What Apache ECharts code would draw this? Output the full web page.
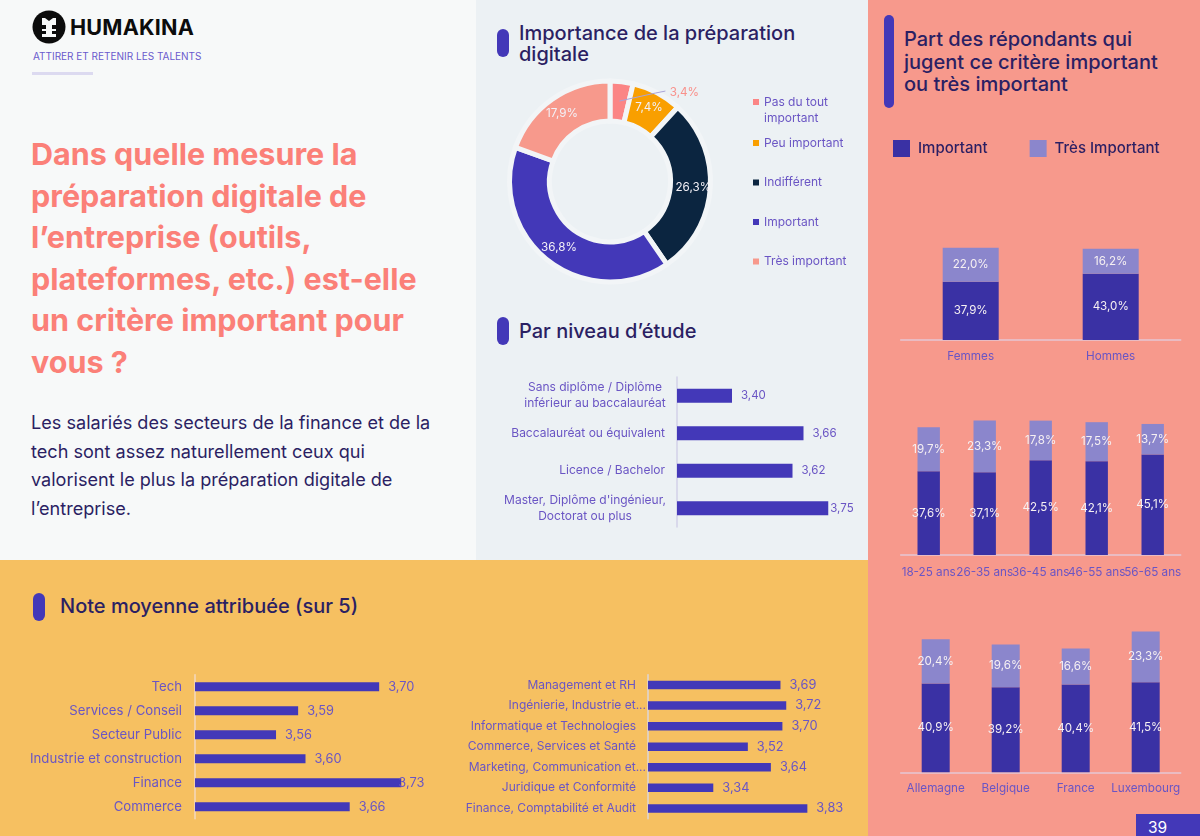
<!DOCTYPE html>
<html lang="fr">
<head>
<meta charset="utf-8">
<title>Préparation digitale</title>
<script src="https://cdn.jsdelivr.net/npm/echarts@6/dist/echarts.min.js"></script>
<style>
  html, body { margin: 0; padding: 0; }
  body { width: 1200px; height: 836px; position: relative; overflow: hidden; font-family: Inter, sans-serif; background: #f7f9f9; }
  .box { position: absolute; }
  .chart { position: absolute; }
  .pill { position: absolute; background: #4338b8; border-radius: 7px; }
  .head { position: absolute; color: #2b1f63; font-weight: 500; white-space: nowrap; }
</style>
</head>
<body>
<div class="box" style="left:0;top:0;width:476px;height:560px;background:#f7f9f9"></div>
<div class="box" style="left:476px;top:0;width:392px;height:560px;background:#ecf1f4"></div>
<div class="box" style="left:868px;top:0;width:332px;height:836px;background:#f7998c"></div>
<div class="box" style="left:0;top:560px;width:868px;height:276px;background:#f6c061"></div>

<svg class="box" style="left:32px;top:10px" width="34" height="34" viewBox="0 0 34 34">
  <circle cx="17" cy="17" r="16.5" fill="#0c0c0c"/>
  <path d="M10 8h3l4 3 4-3h3v7h-14z M10 19h14v2h-14z M10 24h14v3h-14z M14 15h6v4h-6z M14 21h6v3h-6z" fill="#f7f9f9"/>
</svg>
<div class="head" style="left:70px;top:12px;font-size:21.6px;line-height:30px;font-weight:700;color:#0c0c0c;letter-spacing:.2px">HUMAKINA</div>
<div class="head" style="left:33px;top:49px;font-size:10px;line-height:14px;font-weight:400;color:#6a5acd">ATTIRER ET RETENIR LES TALENTS</div>
<div class="box" style="left:32px;top:72px;width:61px;height:3px;background:#dcdaf0"></div>

<div class="head" style="left:31px;top:133px;font-size:30.5px;line-height:41.6px;font-weight:700;color:#fb8078">Dans quelle mesure la<br>préparation digitale de<br>l’entreprise (outils,<br>plateformes, etc.) est-elle<br>un critère important pour<br>vous ?</div>
<div class="head" style="left:31px;top:408px;font-size:18.1px;line-height:28.5px;font-weight:400">Les salariés des secteurs de la finance et de la<br>tech sont assez naturellement ceux qui<br>valorisent le plus la préparation digitale de<br>l’entreprise.</div>

<div class="pill" style="left:497px;top:29px;width:12px;height:28px"></div>
<div class="head" style="left:519px;top:23px;font-size:20px;line-height:21px">Importance de la préparation<br>digitale</div>
<div class="pill" style="left:497px;top:317px;width:12px;height:28px"></div>
<div class="head" style="left:519px;top:319px;font-size:20px;line-height:24px">Par niveau d’étude</div>
<div class="pill" style="left:33px;top:593px;width:12px;height:28px"></div>
<div class="head" style="left:60px;top:594px;font-size:20px;line-height:24px">Note moyenne attribuée (sur 5)</div>
<div class="pill" style="left:884px;top:15px;width:10px;height:93px"></div>
<div class="head" style="left:904px;top:28px;font-size:20px;line-height:22.5px">Part des répondants qui<br>jugent ce critère important<br>ou très important</div>

<div class="chart" id="pieChart" style="left:476px;top:70px;width:392px;height:230px"></div>
<div class="chart" id="studyChart" style="left:476px;top:360px;width:392px;height:190px"></div>
<div class="chart" id="sectorChart" style="left:0;top:660px;width:440px;height:176px"></div>
<div class="chart" id="jobChart" style="left:440px;top:660px;width:428px;height:176px"></div>
<div class="chart" id="genderChart" style="left:868px;top:130px;width:332px;height:240px"></div>
<div class="chart" id="ageChart" style="left:868px;top:390px;width:332px;height:200px"></div>
<div class="chart" id="countryChart" style="left:868px;top:610px;width:332px;height:200px"></div>

<div class="box" style="left:1136px;top:814px;width:64px;height:22px;background:#4338b8;color:#fff;font-size:15.5px;line-height:27px;text-indent:12px">39</div>

<script>
// donut
const pieNames = ['Pas du tout important', 'Peu important', 'Indifférent', 'Important', 'Très important'];
const pieValues = [3.4, 7.4, 26.3, 36.8, 17.9];

// note moyenne
const studyNames = ['Sans diplôme / Diplôme\ninférieur au baccalauréat', 'Baccalauréat ou équivalent', 'Licence / Bachelor', "Master, Diplôme d'ingénieur,\nDoctorat ou plus"];
const studyValues = [3.40, 3.66, 3.62, 3.75];
const sectorNames = ['Tech', 'Services / Conseil', 'Secteur Public', 'Industrie et construction', 'Finance', 'Commerce'];
const sectorValues = [3.70, 3.59, 3.56, 3.60, 3.73, 3.66];
const jobNames = ['Management et RH', 'Ingénierie, Industrie et...', 'Informatique et Technologies', 'Commerce, Services et Santé', 'Marketing, Communication et...', 'Juridique et Conformité', 'Finance, Comptabilité et Audit'];
const jobValues = [3.69, 3.72, 3.70, 3.52, 3.64, 3.34, 3.83];

// part important / très important
const genderNames = ['Femmes', 'Hommes'];
const genderImportant = [37.9, 43.0];
const genderVery = [22.0, 16.2];
const ageNames = ['18-25 ans', '26-35 ans', '36-45 ans', '46-55 ans', '56-65 ans'];
const ageImportant = [37.6, 37.1, 42.5, 42.1, 45.1];
const ageVery = [19.7, 23.3, 17.8, 17.5, 13.7];
const countryNames = ['Allemagne', 'Belgique', 'France', 'Luxembourg'];
const countryImportant = [40.9, 39.2, 40.4, 41.5];
const countryVery = [20.4, 19.6, 16.6, 23.3];

const FONT = 'Inter, sans-serif';
const LABEL = '#6a55c4';
const INDIGO = '#4338b8';
const comma = (v, n) => v.toFixed(n).replace('.', ',');

function draw(id, option) {
    const chart = echarts.init(document.getElementById(id), null, { renderer: 'canvas' });
    chart.setOption(Object.assign({ animation: false, textStyle: { fontFamily: FONT } }, option));
    return chart;
}

const PIE_CENTER = [134, 111.5];
// leader of the 3,4% label starts in the middle of its slice
const firstMidAngle = (90 - pieValues[0] / pieValues.reduce((a, b) => a + b, 0) * 180) * Math.PI / 180;
const leaderStart = [PIE_CENTER[0] + 81 * Math.cos(firstMidAngle), PIE_CENTER[1] - 81 * Math.sin(firstMidAngle)];

draw('pieChart', {
    legend: [
        {
            data: pieNames.slice(0, 1), left: 272, top: 3, orient: 'vertical', itemWidth: 6, itemHeight: 6, itemGap: 0,
            icon: 'rect', selectedMode: false,
            // blank first line keeps the marker level with "Pas du tout"
            formatter: (name) => '\n' + name.replace('tout ', 'tout\n'),
            textStyle: { color: LABEL, fontFamily: FONT, fontSize: 12, lineHeight: 16 },
            itemStyle: { borderWidth: 0 }
        },
        {
            data: pieNames.slice(1), left: 272, top: 60.5, orient: 'vertical', itemWidth: 6, itemHeight: 6, itemGap: 24.5,
            icon: 'rect', selectedMode: false,
            textStyle: { color: LABEL, fontFamily: FONT, fontSize: 12, lineHeight: 15 },
            itemStyle: { borderWidth: 0 }
        }
    ],
    graphic: [{
        type: 'polyline', z: 100, silent: true,
        shape: { points: [leaderStart, [leaderStart[0] + 36, leaderStart[1] - 8], [leaderStart[0] + 46, leaderStart[1] - 10]] },
        style: { stroke: '#a9a3d8', lineWidth: 1, fill: null }
    }],
    series: [{
        type: 'pie',
        center: PIE_CENTER,
        radius: [60.5, 100.5],
        startAngle: 90,
        color: ['#fb8585', '#f99f00', '#0b2540', INDIGO, '#f7998c'],
        itemStyle: { borderColor: '#f2f5f7', borderWidth: 5 },
        label: {
            position: 'inside', color: '#f3f0f6', fontFamily: FONT, fontSize: 11.7,
            formatter: (p) => comma(p.value, 1) + '%'
        },
        labelLayout: (p) => p.dataIndex === 0 ? { x: p.rect.x + p.rect.width + 34, y: p.rect.y + 14 } : {},
        data: pieNames.map((name, i) => i === 0 ? {
            name, value: pieValues[i],
            label: { position: 'outside', color: '#f9908a' },
            labelLine: { show: false }
        } : { name, value: pieValues[i] })
    }]
});

// barres horizontales
function hbar(names, values, cfg) {
    return {
        grid: Object.assign({ containLabel: false }, cfg.grid),
        xAxis: { type: 'value', min: cfg.min, max: cfg.max, show: false },
        yAxis: {
            type: 'category', inverse: true, data: names,
            axisTick: { show: false },
            axisLine: { lineStyle: { color: cfg.axisColor, width: 1.5 } },
            axisLabel: Object.assign({ color: LABEL, fontFamily: FONT, fontSize: cfg.fontSize, margin: 13, interval: 0, lineHeight: 16 }, cfg.axisLabel)
        },
        series: [{
            type: 'bar', barWidth: cfg.barWidth, itemStyle: { color: INDIGO },
            label: {
                show: true, position: 'right', distance: 9, color: LABEL, fontFamily: FONT, fontSize: cfg.valueSize,
                formatter: (p) => comma(p.value, 2)
            },
            data: values.map((value, i) => cfg.pull && cfg.pull[i] !== undefined
                ? { value, label: { distance: cfg.pull[i] } } : value)
        }]
    };
}

draw('studyChart', hbar(studyNames, studyValues, {
    grid: { left: 201, top: 17, width: 165, height: 150 },
    min: 3.2, max: 3.8, barWidth: 14, fontSize: 12, valueSize: 11.5, axisColor: '#d3d1e8', pull: { 3: 2 },
    axisLabel: {
        margin: 12,
        formatter: (v, i) => v.includes('\n') ? v.split('\n').map((l) => `{${i === 0 ? 'a' : 'b'}|${l}}`).join('\n') : v,
        rich: {
            a: { width: 140, align: 'center', color: LABEL, fontFamily: FONT, fontSize: 12, lineHeight: 16 },
            b: { width: 160, align: 'center', color: LABEL, fontFamily: FONT, fontSize: 12, lineHeight: 16 }
        }
    }
}));

draw('sectorChart', hbar(sectorNames, sectorValues, {
    grid: { left: 195, top: 14.7, width: 221, height: 144 },
    min: 3.45, max: 3.75, barWidth: 9, fontSize: 13.2, valueSize: 12.8, axisColor: '#f3d9c0', pull: { 4: -3 }
}));

draw('jobChart', hbar(jobNames, jobValues, {
    grid: { left: 208, top: 14.7, width: 192, height: 144 },
    min: 3, max: 4, barWidth: 8.5, fontSize: 12, valueSize: 12.8, axisColor: '#dcd6d8',
    axisLabel: {
        margin: 2,
        formatter: (v) => v.endsWith('...') ? `{t|${v}}` : `{p|${v}}`,
        rich: {
            t: { color: LABEL, fontFamily: FONT, fontSize: 12 },
            p: { color: LABEL, fontFamily: FONT, fontSize: 12, padding: [0, 10, 0, 0] }
        }
    }
}));

// barres empilées
function stacked(names, important, very, cfg) {
    const seg = (name, values, color) => ({
        type: 'bar', name, stack: 'total', barWidth: '40%', data: values, itemStyle: { color },
        label: {
            show: true, position: 'inside', color: '#f6f0f2', fontFamily: FONT, fontSize: 11.6,
            formatter: (p) => comma(p.value, 1) + '%'
        }
    });
    return {
        legend: cfg.legend,
        grid: cfg.grid,
        xAxis: {
            type: 'category', data: names,
            axisTick: { show: false },
            axisLine: { lineStyle: { color: '#e6c6d4', width: 1.5 } },
            axisLabel: { color: LABEL, fontFamily: FONT, fontSize: 11.7, margin: cfg.margin, interval: 0 }
        },
        yAxis: { type: 'value', min: 0, max: 70, show: false },
        series: [seg('Important', important, '#3a31a4'), seg('Très Important', very, '#8b86cc')]
    };
}

draw('genderChart', stacked(genderNames, genderImportant, genderVery, {
    grid: { left: 32.7, top: 102.2, width: 280, height: 107.8 },
    margin: 10,
    legend: {
        left: 20, top: 5, itemWidth: 17, itemHeight: 17, itemGap: 42, icon: 'rect', selectedMode: false,
        textStyle: { color: '#2b1f63', fontFamily: FONT, fontSize: 15, fontWeight: 500, padding: [0, 0, 0, 3] }
    }
}));
draw('ageChart', stacked(ageNames, ageImportant, ageVery, {
    grid: { left: 32.7, top: 9, width: 280, height: 156 }, margin: 11
}));
draw('countryChart', stacked(countryNames, countryImportant, countryVery, {
    grid: { left: 32.7, top: 10.3, width: 280, height: 152 }, margin: 10
}));
</script>
</body>
</html>
